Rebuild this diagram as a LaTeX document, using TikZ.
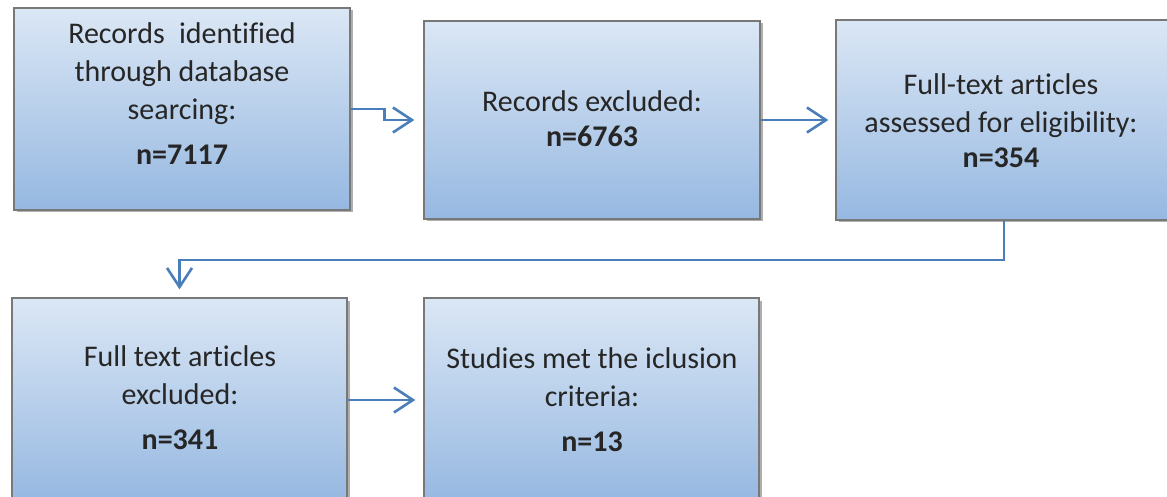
\documentclass[tikz,border=0pt]{standalone}
\usepackage{fontspec}
\setmainfont[Ligatures=NoCommon]{Carlito}
\usetikzlibrary{arrows.meta,shadows}
\definecolor{boxtop}{RGB}{219,231,245}
\definecolor{boxbot}{RGB}{150,184,225}
\definecolor{boxedge}{RGB}{120,120,120}
\definecolor{flow}{RGB}{74,126,187}
\tikzset{
  stagebox/.style={draw=boxedge, line width=1.4pt, top color=boxtop, bottom color=boxbot,
    inner sep=0pt, drop shadow={shadow xshift=2.5pt, shadow yshift=-2.5pt, opacity=0.45, fill=black!70}},
  stagetext/.style={align=center, font=\fontsize{30}{38}\selectfont, inner sep=0pt, text=black!85},
  flowline/.style={draw=flow, line width=2.6pt,
    -{Straight Barb[length=19pt,width=25pt,line width=2.6pt]}}
}
\begin{document}
\begin{tikzpicture}[x=1pt,y=-1pt]
\useasboundingbox (0,0) rectangle (1167,497);
\clip (0,0) rectangle (1167,497);
% stage boxes
\node[stagebox, minimum width=336pt, minimum height=202pt] (b1) at (182,109) {};
\node[stagebox, minimum width=336pt, minimum height=198pt] (b2) at (592,120) {};
\node[stagebox, minimum width=336pt, minimum height=200pt] (b3) at (1004,120) {};
\node[stagebox, minimum width=335pt, minimum height=204pt] (b4) at (179.5,400) {};
\node[stagebox, minimum width=335pt, minimum height=204pt] (b5) at (591.5,400) {};
% box texts
\node[stagetext] (t1) at (182,94) {Records\hspace{0.25em} identified\\through database\\searcing:\\[7pt]\textbf{n=7117}};
\node[stagetext] (t2) at (592,119) {Records excluded:\\[-3pt]\textbf{n=6763}};
\node[stagetext] (t3) at (1001,121) {Full-text articles\\assessed for eligibility:\\[-3pt]\textbf{n=354}};
\node[stagetext] (t4) at (180,398) {Full text articles\\excluded:\\[7pt]\textbf{n=341}};
\node[stagetext] (t5) at (592,400) {Studies met the iclusion\\criteria:\\[7pt]\textbf{n=13}};
% connectors
\draw[flowline, shorten >=9pt] (b1.east) -- ++(34,0) |- (b2.west);
\draw[flowline, shorten >=7pt] (b2.east) -- (b2.east -| b3.west);
\coordinate (turn) at (1004,260);
\draw[flowline, shorten >=8pt] (b3.south) -- (turn) -| (b4.north);
\draw[flowline, shorten >=8pt] (b4.east) -- (b5.west);
\end{tikzpicture}
\end{document}
